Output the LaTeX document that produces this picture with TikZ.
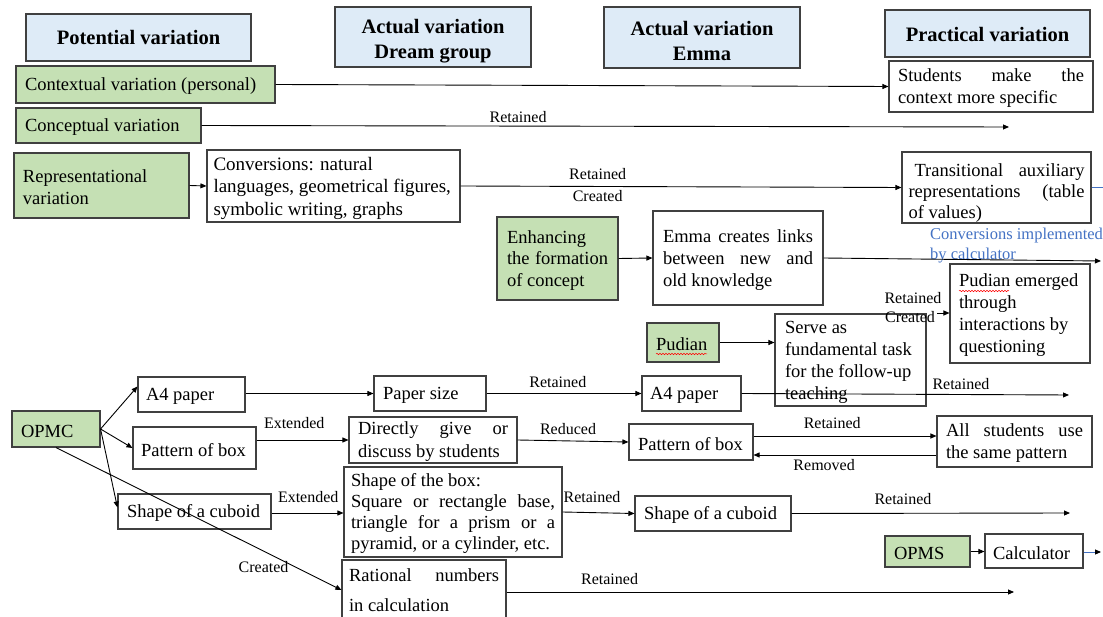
\documentclass[tikz,border=0pt]{standalone}
\usepackage{fontspec}
\setmainfont{Liberation Serif}
\usetikzlibrary{arrows.meta,decorations.pathmorphing}
\definecolor{hdrblue}{HTML}{DEEBF7}
\definecolor{grn}{HTML}{C5E0B4}
\definecolor{lnblue}{HTML}{4472C4}
\definecolor{bord}{HTML}{404040}
\newcommand{\jline}[1]{\makebox[\hsize][s]{\spaceskip=0pt\xspaceskip=0pt #1}}
\newcommand{\tdn}[1][16.5pt]{\rule{0pt}{#1}}
\begin{document}
\begin{tikzpicture}[x=1pt,y=-1pt,
  bbase/.style={draw=bord, line width=1.1pt, inner sep=0pt, align=left, font=\fontsize{18.5pt}{22pt}\selectfont, execute at begin node={\spaceskip=0pt\xspaceskip=0pt}},
  hdr/.style={bbase, fill=hdrblue, align=center, font=\fontsize{20.5pt}{25pt}\selectfont\bfseries},
  gbox/.style={bbase, fill=grn},
  wbox/.style={bbase, fill=white},
  ls/.style={font=\fontsize{18.5pt}{#1pt}\selectfont},
  arr/.style={draw=black, line width=0.9pt, -{Triangle[length=6pt,width=5pt]}},
  blueline/.style={draw=lnblue, line width=0.9pt},
  lbl/.style={font=\fontsize{16pt}{18pt}\selectfont, inner sep=0pt},
  bluetxt/.style={text=lnblue, font=\fontsize{16.5pt}{20pt}\selectfont, align=left, inner sep=0pt, execute at begin node={\spaceskip=0pt\xspaceskip=0pt}},
  squig/.style={draw=red, line width=0.5pt, decorate, decoration={snake, amplitude=0.7pt, segment length=3pt}}
]
\fill[white] (0,0) rectangle (1103,617);
\useasboundingbox (0,0) rectangle (1103,617);

% headers
\node[hdr, minimum width=225pt, minimum height=47pt] (h1) at (138.5,37.5) {Potential variation};
\node[hdr, minimum width=196pt, minimum height=60pt] (h2) at (433,37) {\rule{0pt}{23pt}Actual variation\\Dream group};
\node[hdr, minimum width=196pt, minimum height=61pt] (h3) at (702,37.5) {\rule{0pt}{21pt}Actual variation\\Emma};
\node[hdr, minimum width=205pt, minimum height=47pt] (h4) at (987.5,33.5) {\rule{0pt}{17pt}Practical variation};

% green boxes
\node[gbox, minimum width=259pt, minimum height=37pt, text width=241pt] (g1) at (145.5,84.5) {\tdn Contextual variation (personal)};
\node[gbox, minimum width=185pt, minimum height=35pt, text width=167pt] (g2) at (108.5,125.5) {\tdn Conceptual variation};
\node[gbox, minimum width=175pt, minimum height=65pt, text width=157pt, ls=21.5] (g3) at (101.5,185.5) {\tdn Representational\\variation};
\node[gbox, minimum width=121pt, minimum height=83pt, text width=101pt, ls=21.5] (g4) at (557.5,258.5) {\tdn Enhancing\\ \jline{the formation}\\of concept};
\node[gbox, minimum width=72pt, minimum height=39pt, text width=54pt] (g5) at (683,342.5) {\tdn Pudian};
\node[gbox, minimum width=88pt, minimum height=36pt, text width=70pt] (opmc) at (56,429) {\tdn OPMC};
\node[gbox, minimum width=85pt, minimum height=31pt, text width=67pt] (opms) at (927.5,551.5) {\tdn OPMS};

% white boxes
\node[wbox, minimum width=204pt, minimum height=51pt, text width=186pt, ls=22] (stud) at (991,86.5) {\tdn[15.5pt]\jline{Students make the}\\ context more specific};
\node[wbox, minimum width=253pt, minimum height=72pt, text width=240pt, font=\fontsize{19pt}{22.5pt}\selectfont] (conv) at (333.5,186) {\tdn[18pt]Conversions: natural\\ \mbox{languages, geometrical figures,}\\ symbolic writing, graphs};
\node[wbox, minimum width=189pt, minimum height=71pt, text width=176pt, ls=21] (trans) at (996.5,187.5) {\tdn[23.5pt]\jline{\hspace{6pt}Transitional auxiliary}\\ \jline{representations (table}\\ of values)};
\node[wbox, minimum width=170pt, minimum height=94pt, text width=150pt, ls=22] (emma) at (738,258) {\tdn\jline{Emma creates links}\\ \jline{between new and}\\ old knowledge};
\node[wbox, minimum width=140pt, minimum height=99pt, text width=122pt, ls=22] (pemerg) at (1020,313.5) {\tdn Pudian emerged\\ through\\ interactions by\\ questioning};
\node[wbox, minimum width=151pt, minimum height=92pt, text width=131pt, ls=22] (serve) at (850.5,360) {\tdn Serve as\\ fundamental task\\ \mbox{for the follow-up}\\ teaching};
\node[wbox, minimum width=107pt, minimum height=35pt, text width=91pt] (a4L) at (191.5,394.5) {\tdn A4 paper};
\node[wbox, minimum width=123pt, minimum height=42pt, text width=107pt] (patL) at (194.5,448) {\tdn\mbox{Pattern of box}};
\node[wbox, minimum width=153pt, minimum height=35pt, text width=135pt] (shpL) at (194.5,511.5) {\tdn\mbox{Shape of a cuboid}};
\node[wbox, minimum width=112pt, minimum height=35pt, text width=94pt] (psize) at (430,393.5) {\tdn Paper size};
\node[wbox, minimum width=168pt, minimum height=46pt, text width=150pt, ls=23] (direct) at (433,440) {\tdn\jline{Directly give or}\\ discuss by students};
\node[wbox, minimum width=218pt, minimum height=90pt, text width=204pt, ls=21] (shbox) at (453,512) {\tdn[15.5pt]Shape of the box:\\ \jline{Square or rectangle base,}\\ \jline{triangle for a prism or a}\\ \mbox{pyramid, or a cylinder, etc.}};
\node[wbox, minimum width=164pt, minimum height=60pt, text width=150pt, ls=30] (rat) at (424,590) {\jline{Rational numbers}\\ in calculation};
\node[wbox, minimum width=99pt, minimum height=35pt, text width=83pt] (a4R) at (691.5,393.5) {\tdn A4 paper};
\node[wbox, minimum width=124pt, minimum height=36pt, text width=106pt] (patR) at (691,442) {\tdn\mbox{Pattern of box}};
\node[wbox, minimum width=156pt, minimum height=35pt, text width=138pt] (shpR) at (713,513.5) {\tdn\mbox{Shape of a cuboid}};
\node[wbox, minimum width=155pt, minimum height=51pt, text width=137pt, ls=22] (allst) at (1014.5,441.5) {\tdn\jline{All students use}\\ the same pattern};
\node[wbox, minimum width=98pt, minimum height=34pt, text width=82pt] (calc) at (1034,551) {\tdn Calculator};

% blue annotation
\node[bluetxt, anchor=west] (cimpl) at (930,246) {Conversions implemented\\by calculator};

% spelling marks
\draw[squig] (656,354) -- (707,354);
\draw[squig] (959,291) -- (1009,291);

% connectors
\draw[arr] (g1.east) -- (stud.west);
\coordinate (e2) at (1009,127);
\draw[arr] (g2.east) -- node[lbl, pos=0.392, yshift=9pt] (l2) {Retained} (e2);
\draw[arr] (g3.east) -- (conv.west);
\draw[arr] (conv.east) -- node[lbl, pos=0.311, yshift=12.5pt] (l4a) {Retained} node[lbl, pos=0.311, yshift=-9.5pt] (l4b) {Created} (trans.west);
\coordinate (e5) at (1103,187);
\draw[blueline] (trans.east |- e5) -- (e5);
\draw[arr] (g4.east) -- (emma.west);
\coordinate (e7) at (1101,261);
\draw[arr] (emma.east) -- (e7);
\draw[arr] (g5.east) -- (serve.west |- g5.east);
\coordinate (s9) at (937,313);
\draw[arr] (s9) -- (pemerg.west |- s9);
\node[lbl] (l9a) at (913,298) {Retained};
\node[lbl] (l9b) at (910,317) {Created};
\draw[arr] (a4L.east |- psize.west) -- (psize.west);
\draw[arr] (psize.east) -- node[lbl, pos=0.46, yshift=11pt] (l11) {Retained} (a4R.west);
\coordinate (e12) at (1069,395);
\draw[arr] (a4R.east) -- node[lbl, pos=0.67, yshift=10pt] (l12) {Retained} (e12);
\draw[arr] (patL.east |- direct.west) -- node[lbl, pos=0.41, yshift=17pt] (l13) {Extended} (direct.west);
\draw[arr] (direct.east) -- node[lbl, pos=0.455, yshift=12pt] (l14) {Reduced} (patR.west);
\draw[arr] (patR.east |- 0,436) -- node[lbl, pos=0.43, yshift=13pt] (l15) {Retained} (allst.west |- 0,436);
\draw[arr] (allst.west |- 0,455) -- node[lbl, pos=0.614, yshift=-10pt] (l16) {Removed} (patR.east |- 0,455);
\draw[arr] (shpL.east |- 0,513) -- node[lbl, pos=0.51, yshift=16pt] (l17) {Extended} (shbox.west |- 0,513);
\draw[arr] (shbox.east) -- node[lbl, pos=0.41, yshift=16pt] (l18) {Retained} (shpR.west);
\coordinate (e19) at (1070,513);
\draw[arr] (shpR.east) -- node[lbl, pos=0.40, yshift=14pt] (l19) {Retained} (e19);
\draw[arr] (opmc.east) -- ([yshift=8pt]a4L.west);
\draw[arr] (opmc.east) -- (patL.west);
\draw[arr] (opmc.east) -- ([yshift=4pt]shpL.west);
\draw[arr] (opmc.south) -- node[lbl, pos=0.727, yshift=-16pt] (l23) {Created} (rat.west);
\coordinate (e24) at (1014,592);
\draw[arr] (rat.east |- e24) -- node[lbl, pos=0.203, yshift=13pt] (l24) {Retained} (e24);
\draw[arr] (opms.east) -- (calc.west |- opms.east);
\coordinate (e26) at (1101,552);
\draw[blueline, -{Triangle[length=6pt,width=5pt,color=black]}] (calc.east |- e26) -- (e26);
\end{tikzpicture}
\end{document}
